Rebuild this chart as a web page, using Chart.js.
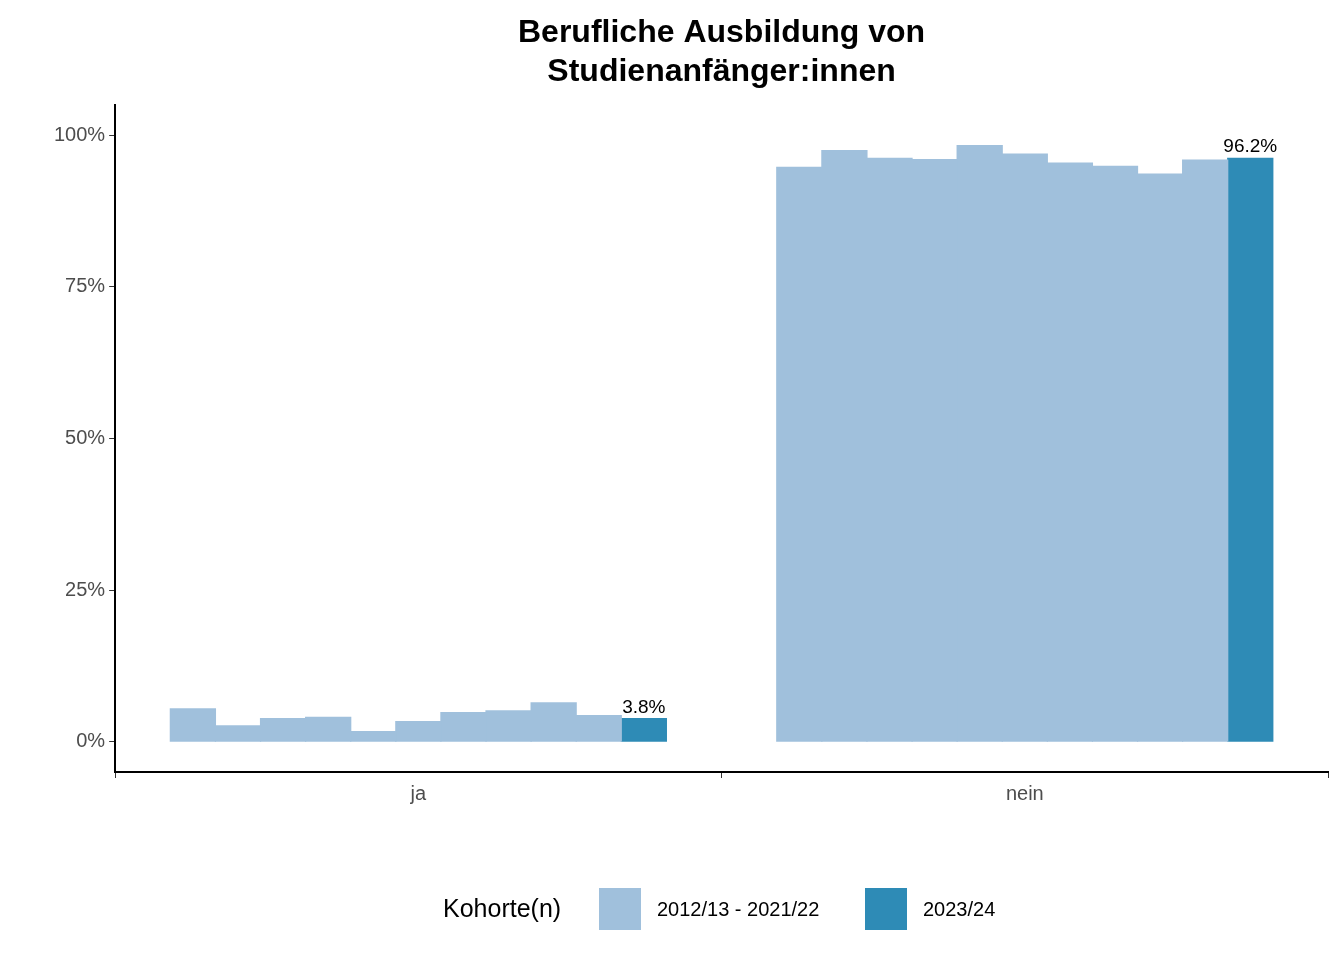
<!DOCTYPE html>
<html><head><meta charset="utf-8">
<script src="https://cdn.jsdelivr.net/npm/chart.js@4"></script>
<style>body{margin:0;background:#fff}#w{width:1344px;height:960px}</style>
</head><body><div id="w"><canvas id="c"></canvas></div>
<script>
const categories = ["ja", "nein"];
const cohorts = ["2012/13","2013/14","2014/15","2015/16","2016/17","2017/18","2018/19","2019/20","2020/21","2021/22"];
const jaValues = [5.4, 2.6, 3.8, 4.0, 1.65, 3.3, 4.8, 5.1, 6.4, 4.3];
const neinValues = [94.7, 97.5, 96.2, 96.0, 98.3, 96.9, 95.4, 94.9, 93.6, 95.9];
const currentValues = [3.8, 96.2];
const yTicks = [0, 25, 50, 75, 100];
const legendTitle = "Kohorte(n)";
const legendLabels = ["2012/13 - 2021/22", "2023/24"];
const titleLines = ["Berufliche Ausbildung von", "Studienanfänger:innen"];
const light = "#a0c0dc", dark = "#2e8bb6";
const F = "Liberation Sans, Arial, sans-serif";

const datasets = cohorts.map((c, i) => ({label: c, data: [jaValues[i], neinValues[i]], backgroundColor: light}));
datasets.push({label: "2023/24", data: currentValues, backgroundColor: dark});

const deco = {
  id: "deco",
  afterDraw(chart) {
    const ctx = chart.ctx, a = chart.chartArea;
    ctx.save();
    ctx.fillStyle = "#000";
    ctx.textAlign = "center";
    ctx.font = "bold 32px " + F;
    const cx = (a.left + a.right) / 2;
    ctx.textBaseline = "alphabetic";
    ctx.fillText(titleLines[0], cx, 42);
    ctx.fillText(titleLines[1], cx, 81);
    const meta = chart.getDatasetMeta(datasets.length - 1);
    ctx.font = "19px " + F;
    meta.data.forEach((b, i) => ctx.fillText(currentValues[i].toFixed(1) + "%", b.x, b.y - 6));
    ctx.textAlign = "left"; ctx.textBaseline = "middle";
    ctx.font = "25px " + F;
    ctx.fillText(legendTitle, 443, 910);
    ctx.fillStyle = light; ctx.fillRect(599, 888, 42, 42);
    ctx.fillStyle = dark; ctx.fillRect(865, 888, 42, 42);
    ctx.fillStyle = "#000"; ctx.font = "20px " + F;
    ctx.fillText(legendLabels[0], 657, 910);
    ctx.fillText(legendLabels[1], 923, 910);
    ctx.restore();
  }
};

new Chart(document.getElementById("c"), {
  type: "bar",
  data: {labels: categories, datasets},
  options: {
    responsive: true, maintainAspectRatio: false, animation: false,
    layout: {padding: {top: 105, right: 16, bottom: 150, left: 50}},
    datasets: {bar: {barPercentage: 1, categoryPercentage: 0.818, inflateAmount: 0.6}},
    plugins: {legend: {display: false}, tooltip: {enabled: false}},
    scales: {
      x: {grid: {display: true, drawOnChartArea: false, drawTicks: true, tickLength: 6, tickColor: "#333"},
          border: {color: "#000", width: 2},
          ticks: {color: "#4d4d4d", font: {size: 20, family: F}, padding: 4}},
      y: {min: -5, max: 105,
          afterBuildTicks: s => { s.ticks = yTicks.map(v => ({value: v})); },
          grid: {display: true, drawOnChartArea: false, drawTicks: true, tickLength: 6, tickColor: "#333"},
          border: {color: "#000", width: 2},
          ticks: {color: "#4d4d4d", font: {size: 20, family: F}, padding: 4, callback: v => v + "%"}}
    }
  },
  plugins: [deco]
});
</script></body></html>
